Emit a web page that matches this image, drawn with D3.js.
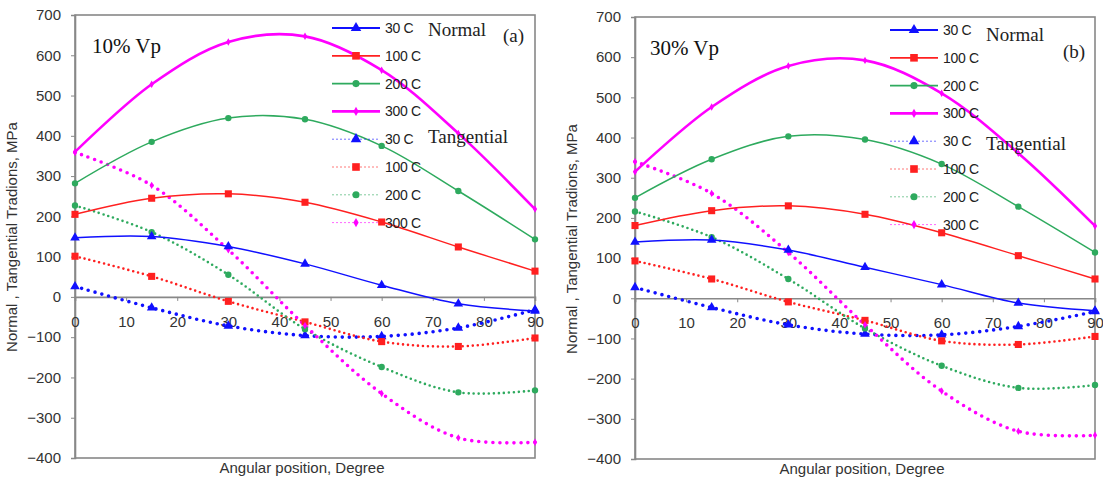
<!DOCTYPE html>
<html><head><meta charset="utf-8">
<script src="https://cdn.jsdelivr.net/npm/d3@7"></script>
<style>body{margin:0;background:#fff;} svg{display:block;}</style>
</head><body>
<svg id="chart" width="1103" height="482"></svg>
<script>
// ---- data ----
const angles = [0, 15, 30, 45, 60, 75, 90];
const temps = ["30 C", "100 C", "200 C", "300 C"];
const xTicks = [0, 10, 20, 30, 40, 50, 60, 70, 80, 90];
const yTicks = [-400, -300, -200, -100, 0, 100, 200, 300, 400, 500, 600, 700];

// panel (a) 10% Vp
const normalA30  = [147, 150, 125, 82, 29, -17, -35];
const normalA100 = [205, 245, 256, 235, 186, 124, 64];
const normalA200 = [282, 385, 444, 441, 375, 263, 143];
const normalA300 = [360, 528, 633, 647, 563, 406, 218];
const tangA30  = [26, -27, -72, -96, -98, -77, -32];
const tangA100 = [101, 51, -11, -62, -111, -123, -102];
const tangA200 = [227, 161, 55, -80, -174, -237, -232];
const tangA300 = [359, 277, 117, -71, -240, -350, -361];

// panel (b) 30% Vp
const normalB30  = [140, 145, 120, 77, 34, -12, -31];
const normalB100 = [181, 218, 230, 209, 163, 106, 48];
const normalB200 = [250, 346, 403, 395, 334, 228, 114];
const normalB300 = [315, 476, 578, 592, 510, 361, 180];
const tangB30  = [27, -23, -66, -89, -91, -70, -33];
const tangB100 = [93, 48, -9, -55, -106, -115, -95];
const tangB200 = [216, 152, 48, -75, -168, -223, -216];
const tangB300 = [340, 261, 114, -66, -231, -331, -341];

const panelTitles = ["10% Vp", "30% Vp"];
const panelTags = ["(a)", "(b)"];
const yLabel = "Normal , Tangential Tradions, MPa";
const xLabel = "Angular position, Degree";

// ---- styles ----
const colors = ["#1010ff", "#ff2020", "#2eaa5e", "#ff00ff"];
const shapes = [d3.symbolTriangle, d3.symbolSquare, d3.symbolCircle, d3.symbolDiamond];
const symSize = [40, 50, 32, 16];
const normW = [1.5, 1.5, 1.5, 2.6];
const dotW = [3.6, 2.6, 2.6, 3.6];
const dotGap = [7, 5, 5, 7];

const svg = d3.select("#chart");
const sans = "'Liberation Sans', Arial, sans-serif";
const serif = "'Liberation Serif', 'Times New Roman', serif";

function panel(o) {
  const x = d3.scaleLinear().domain([0, 90]).range([o.x0, o.x1]);
  const y = d3.scaleLinear().domain([-400, 700]).range([o.y1, o.y0]);
  const g = svg.append("g");

  // frame
  g.append("rect").attr("x", o.x0).attr("y", o.y0)
    .attr("width", o.x1 - o.x0).attr("height", o.y1 - o.y0)
    .attr("fill", "none").attr("stroke", "#888").attr("stroke-width", 1.6);

  // y axis
  const ya = g.append("g").attr("transform", `translate(${o.x0},0)`)
    .call(d3.axisLeft(y).tickValues(yTicks).tickSize(4).tickPadding(10).tickFormat(d3.format("d")));
  ya.select(".domain").attr("stroke", "#888").attr("stroke-width", 1.6);
  ya.selectAll(".tick line").attr("stroke", "#888");
  ya.selectAll("text").attr("font-family", sans).attr("font-size", 15).attr("fill", "#333");

  // x axis at y=0
  const xa = g.append("g").attr("transform", `translate(0,${y(0)})`)
    .call(d3.axisBottom(x).tickValues(xTicks).tickSize(4).tickPadding(15).tickFormat(d3.format("d")));
  xa.select(".domain").attr("stroke", "#888").attr("stroke-width", 1.6);
  xa.selectAll(".tick line").attr("stroke", "#888");
  xa.selectAll("text").attr("font-family", sans).attr("font-size", 15).attr("fill", "#333");

  // axis labels
  g.append("text").attr("transform", `translate(${o.x0 - 58},${o.ylabY}) rotate(-90)`)
    .attr("text-anchor", "middle").attr("font-family", sans).attr("font-size", 15)
    .attr("fill", "#333").text(yLabel);
  g.append("text").attr("x", (o.x0 + o.x1) / 2 - 3).attr("y", o.y1 + 15)
    .attr("text-anchor", "middle").attr("font-family", sans).attr("font-size", 15)
    .attr("fill", "#333").text(xLabel);

  const line = d3.line().x((d, i) => x(angles[i])).y(d => y(d)).curve(d3.curveCatmullRom.alpha(0.5));

  // tangential (dotted)
  o.tang.forEach((vals, k) => {
    g.append("path").attr("d", line(vals)).attr("fill", "none")
      .attr("stroke", colors[k]).attr("stroke-width", dotW[k])
      .attr("stroke-linecap", "round").attr("stroke-dasharray", `0,${dotGap[k]}`);
  });
  // normal (solid)
  o.norm.forEach((vals, k) => {
    g.append("path").attr("d", line(vals)).attr("fill", "none")
      .attr("stroke", colors[k]).attr("stroke-width", normW[k]);
  });
  // markers
  [o.tang, o.norm].forEach(group => group.forEach((vals, k) => {
    g.selectAll(null).data(vals).enter().append("path")
      .attr("d", d3.symbol().type(shapes[k]).size(symSize[k]))
      .attr("transform", (d, i) => `translate(${x(angles[i])},${y(d)})`)
      .attr("fill", colors[k]);
  }));

  // labels inside
  g.append("text").attr("x", o.titleX).attr("y", o.titleY).attr("font-family", serif)
    .attr("font-size", 21).attr("fill", "#111").text(o.title);
  g.append("text").attr("x", o.tagX).attr("y", o.tagY).attr("font-family", serif)
    .attr("font-size", 19).attr("fill", "#222").text(o.tag);
  g.append("text").attr("x", o.legX + 96).attr("y", o.normY).attr("font-family", serif)
    .attr("font-size", 19).attr("fill", "#222").text("Normal");
  g.append("text").attr("x", o.legX + 96).attr("y", o.tangY).attr("font-family", serif)
    .attr("font-size", 19).attr("fill", "#222").text("Tangential");

  // legend
  const rows = [];
  temps.forEach((t, k) => rows.push({t, k, dotted: false}));
  temps.forEach((t, k) => rows.push({t, k, dotted: true}));
  rows.forEach((r, i) => {
    const ry = o.legY + i * 27.8;
    const ln = g.append("line").attr("x1", o.legX).attr("x2", o.legX + 48)
      .attr("y1", ry).attr("y2", ry).attr("stroke", r.k === 3 && !r.dotted ? colors[3] : colors[r.k]);
    if (r.dotted) ln.attr("stroke-width", 1).attr("stroke-dasharray", "2,2").attr("stroke-opacity", 0.6);
    else ln.attr("stroke-width", r.k === 3 ? 2.6 : 1.8);
    g.append("path").attr("d", d3.symbol().type(shapes[r.k]).size(symSize[r.k] + 8))
      .attr("transform", `translate(${o.legX + 24},${ry})`).attr("fill", colors[r.k]);
    g.append("text").attr("x", o.legX + 53).attr("y", ry + 5).attr("font-family", sans)
      .attr("font-size", 14).attr("fill", "#222").attr("letter-spacing", -0.3).text(r.t);
  });
}

panel({x0: 75, x1: 535, y0: 15, y1: 458, ylabY: 237,
  norm: [normalA30, normalA100, normalA200, normalA300],
  tang: [tangA30, tangA100, tangA200, tangA300],
  title: panelTitles[0], titleX: 92, titleY: 53, tag: panelTags[0], tagX: 503, tagY: 42,
  legX: 332, legY: 28, normY: 36, tangY: 143});
panel({x0: 635, x1: 1095, y0: 17, y1: 459, ylabY: 239,
  norm: [normalB30, normalB100, normalB200, normalB300],
  tang: [tangB30, tangB100, tangB200, tangB300],
  title: panelTitles[1], titleX: 650, titleY: 55, tag: panelTags[1], tagX: 1063, tagY: 58,
  legX: 890, legY: 30, normY: 41, tangY: 150});
</script>
</body></html>
